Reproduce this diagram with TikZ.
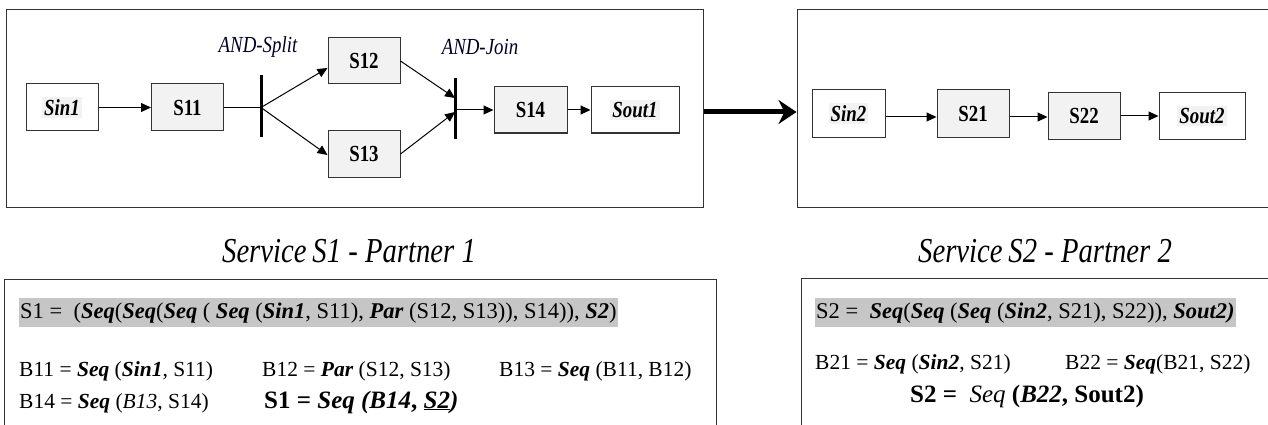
\documentclass[tikz,border=0pt]{standalone}
\usepackage{fontspec}
\setmainfont{Liberation Serif}[FakeStretch=0.82]
\newfontfamily\exprfont{Liberation Serif}
\usetikzlibrary{arrows.meta}
\newcommand{\kw}[1]{\textbf{\textit{#1}}}
\setlength{\fboxsep}{2pt}
\begin{document}
\begin{tikzpicture}[x=1pt,y=-1pt,
  sbox/.style={draw=black!80, line width=1pt, fill=gray!10, minimum width=72pt, minimum height=47pt, font=\fontsize{23}{26}\selectfont\bfseries},
  pbox/.style={sbox, fill=white},
  bar/.style={fill=black, inner sep=0pt, minimum width=3pt},
  flow/.style={line width=1pt, -{Triangle[length=10pt,width=9pt]}},
  frame/.style={draw=black!80, line width=1pt, inner sep=0pt},
  lbl/.style={font=\fontsize{23}{26}\selectfont\itshape, text=black!85!blue},
  title/.style={font=\fontsize{35}{38}\selectfont\itshape},
  txt/.style={anchor=base west, inner sep=0pt, font=\exprfont\fontsize{21.5}{24}\selectfont},
  big/.style={anchor=base west, inner sep=0pt, font=\exprfont\fontsize{25}{28}\selectfont\bfseries},
  hl/.style={txt, font=\exprfont\fontsize{22.5}{25}\selectfont, fill=gray!45, inner xsep=1pt, inner ysep=4pt}]
\useasboundingbox (0,0) rectangle (1268,425);
% Cadres
\node[frame, minimum width=697pt, minimum height=197pt] (p1) at (354.5,108.5) {};
\node[frame, minimum width=520pt, minimum height=197pt] (p2) at (1057,108.5) {};
% Service S1
\node[pbox] (sin1) at (62,107.5) {\colorbox{gray!10}{\kw{Sin1}}};
\node[sbox] (s11) at (187.5,107.5) {S11};
\node[bar, minimum height=62pt] (split) at (261,106) {};
\node[sbox, minimum height=46pt] (s12) at (364,61) {S12};
\node[sbox, minimum height=46pt] (s13) at (364,154) {S13};
\node[bar, minimum height=61pt] (join) at (455,108.5) {};
\node[sbox, minimum width=73pt, minimum height=46pt] (s14) at (530.5,110) {S14};
\node[pbox, minimum width=88pt, minimum height=46pt] (sout1) at (635,110) {\colorbox{gray!10}{\kw{Sout1}}};
\node[lbl] (andsplit) at (258,47) {AND-Split};
\node[lbl] (andjoin) at (480,47) {AND-Join};
\draw[flow] (sin1) -- (s11);
\draw[line width=1pt] (s11) -- (split.center |- s11);
\draw[flow] (split.center |- s11) -- ([yshift=-7pt]s12.west);
\draw[flow] (split.center |- s11) -- ([yshift=-1pt]s13.west);
\draw[flow] (s12.east) -- ([yshift=10.5pt]join.center);
\draw[flow] (s13.east) -- ([yshift=-3.5pt]join.center);
\draw[flow] (join.center |- s14) -- (s14);
\draw[flow] (s14) -- (sout1);
% Service S2
\node[pbox, minimum width=73pt] (sin2) at (848.5,113.5) {\colorbox{gray!10}{\kw{Sin2}}};
\node[sbox] (s21) at (973,113.5) {S21};
\node[sbox, minimum height=46pt] (s22) at (1084,116) {S22};
\node[pbox, minimum width=86pt, minimum height=46pt] (sout2) at (1202,116) {\colorbox{gray!10}{\kw{Sout2}}};
\draw[flow] (sin2.east |- 0,117) -- (s21.west |- 0,117);
\draw[flow] (s21.east |- 0,117) -- (s22.west |- 0,117);
\draw[flow] (s22) -- (sout2);
% Liaison
\draw[line width=5pt, -{Stealth[length=18pt,width=24pt]}] ([yshift=-3.5pt]p1.east) -- ([yshift=-3.5pt]p2.west);
% Titres
\node[title] (t1) at (349,251) {Service\,S1 - Partner 1};
\node[title] (t2) at (1045,251) {Service\,S2 - Partner 2};
% Expressions
\draw[line width=1pt, draw=black!80] (4,279) -- (4,440) (4,279) -- (716,279) -- (716,440);
\draw[line width=1pt, draw=black!80] (801,440) -- (801,278) -- (1290,278);
\node[hl] (e1) at (19,318) {S1 =\ \ (\kw{Seq}(\kw{Seq}(\kw{Seq} ( \kw{Seq} (\kw{Sin1}, S11), \kw{Par} (S12, S13)), S14)), \kw{S2})};
\node[txt] (b11) at (19,376) {B11 = \kw{Seq} (\kw{Sin1}, S11)};
\node[txt] (b12) at (262,376) {B12 = \kw{Par} (S12, S13)};
\node[txt] (b13) at (499,376) {B13 = \kw{Seq} (B11, B12)};
\node[txt] (b14) at (19,408) {B14 = \kw{Seq} (\textit{B13}, S14)};
\node[big] (s1) at (264,408) {S1 = \textit{Seq (B14}, \underline{\textit{S2}}\textit{)}};
\node[hl] (e2) at (815,318) {S2 =\ \ \kw{Seq}(\kw{Seq} (\kw{Seq} (\kw{Sin2}, S21), S22)), \kw{Sout2)}};
\node[txt] (b21) at (815,369) {B21 = \kw{Seq} (\kw{Sin2}, S21)};
\node[txt] (b22) at (1065,369) {B22 = \kw{Seq}(B21, S22)};
\node[big] (s2) at (910,402) {S2 =\ \ \textmd{\textit{Seq}} (\textit{B22}, Sout2)};
\end{tikzpicture}
\end{document}
